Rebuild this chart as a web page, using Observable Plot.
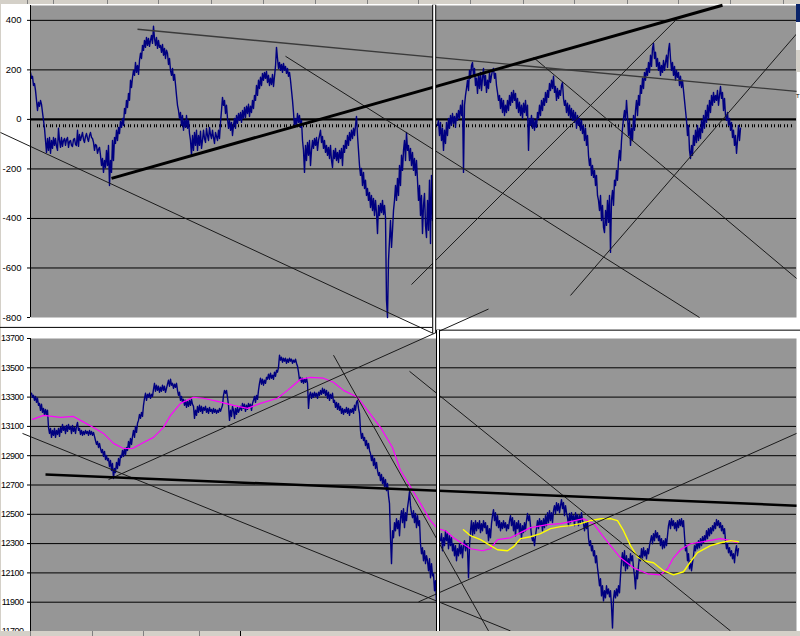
<!DOCTYPE html>
<html>
<head>
<meta charset="utf-8">
<script src="https://cdn.jsdelivr.net/npm/d3@7"></script>
<script src="https://cdn.jsdelivr.net/npm/@observablehq/plot@0.6"></script>
<style>
  html, body { margin: 0; padding: 0; background: #fff; }
  #wrap { position: relative; width: 800px; height: 636px; overflow: hidden; background: #fff; }
  #wrap svg { position: absolute; left: 0; }
  #wrap svg.price text { font-size: 9px; letter-spacing: -0.5px; }
  .chrome { position: absolute; }
</style>
</head>
<body>
<div id="wrap"></div>
<script>
// ---------------- DATA ----------------
// Oscillator (top panel): values per bar, bar index t
const oscLeftStart = 0;
const oscLeft = [
190,166,174,137,145,117,77,36,69,53,
77,61,28,-4,-36,-85,-133,-77,-125,-73,
-137,-85,-117,-73,-105,-77,-109,-125,-36,-85,
-113,-73,-109,-85,-77,-105,-81,-73,-113,-89,
-85,-105,-109,-81,-77,-101,-105,-44,-109,-61,
-85,-69,-53,-81,-93,-69,-57,-77,-89,-65,
-53,-73,-77,-93,-125,-101,-105,-137,-121,-113,
-145,-186,-158,-214,-166,-194,-125,-186,-105,-267,
-166,-214,-85,-166,-73,-97,-44,-85,-32,-57,
-8,-32,4,-24,44,24,77,48,105,77,
158,129,170,198,178,230,190,218,182,238,
267,246,299,279,319,291,331,299,327,295,
319,339,307,376,327,299,331,287,319,291,
299,271,303,259,287,246,279,267,222,246,
198,178,206,158,182,141,97,57,36,4,
28,-24,16,-44,-4,-32,16,-36,-4,-57,
-85,-145,-65,-125,-53,-105,-44,-125,-65,-105,
-48,-117,-85,-44,-77,-93,-36,-65,-85,-32,
-61,-77,-44,-73,-97,-53,-69,-85,-44,-77,
-12,36,89,57,77,24,57,4,-36,-4,
-44,-12,-65,-24,4,-36,16,-16,24,-4,
28,-12,36,4,48,8,53,24,61,12,
53,28,77,44,97,77,137,97,158,125,
170,137,186,158,190,166,194,149,178,137,
166,141,182,133,174,214,291,246,206,230,
198,222,190,226,198,214,186,206,174,190,
158,117,77,28,-32,4,-24,24,-12,16,
-32,-4,-85,-125,-214,-105,-166,-93,-145,-85,
-186,-125,-85,-117,-77,-105,-73,-125,-85,-65,
-44,-93,-69,-117,-85,-133,-105,-145,-113,-158,
-105,-166,-194,-125,-158,-117,-166,-133,-174,-125,
-158,-117,-186,-105,-133,-85,-117,-65,-105,-53,
-85,-44,-77,-36,-65,-24,12,-65,-125,-186,
-226,-198,-267,-214,-279,-246,-307,-279,-327,-295,
-356,-307,-368,-319,-388,-327,-376,-461,-347,-388,
-339,-376,-327,-384,-347,-396,-731,-800,-570,-489,
-408,-517,-448,-368,-327,-267,-327,-238,-307,-186,
-267,-145,-206,-125,-85,-166,-53,-125,-105,-166,
-117,-186,-133,-206,-158,-226,-166,-246,-327,-267,
-388,-307,-461,-347,-299,-428,-477,-327,-448,-246,
-501,-226,-408
];
const oscRightStart = 407;
const oscRight = [
-24,-4,-65,-12,-85,-36,-125,-44,-97,-12,
-65,4,-36,16,-24,24,-16,12,-32,24,
-4,36,4,57,16,77,-214,57,97,125,
158,117,198,166,218,230,178,206,137,166,
105,178,125,190,117,166,206,137,178,109,
158,125,190,149,178,198,206,166,186,137,
109,77,97,44,85,28,77,16,57,28,
77,36,97,57,109,69,117,77,105,44,
85,28,69,16,57,4,65,28,77,16,
57,-125,4,-24,16,-36,4,-44,-4,-32,
28,4,57,16,77,36,85,57,109,69,
117,89,145,117,158,125,174,109,133,77,
125,85,117,97,137,149,85,57,77,28,
65,16,57,4,44,-4,36,-12,28,-36,
16,-24,4,-44,-4,-57,-24,-85,-36,-105,
-65,-145,-186,-158,-226,-186,-234,-206,-267,-226,
-307,-327,-368,-307,-408,-347,-436,-457,-368,-428,
-327,-416,-307,-537,-327,-287,-347,-246,-267,-206,
-246,-166,-125,-166,-85,-36,4,36,-4,77,
16,-65,-4,-105,-36,-85,16,-44,36,77,
16,97,57,137,105,166,125,190,158,206,
178,230,190,259,214,287,307,246,271,214,
246,198,230,178,218,190,238,198,230,259,
210,279,307,246,198,230,178,214,158,198,
170,190,137,174,129,158,117,77,36,-4,
-65,-24,-125,-158,-105,-145,-65,-105,-44,-93,
-24,-85,-36,-77,-4,-53,16,-36,36,-12,
57,4,77,28,97,57,109,69,97,77,
117,57,97,133,85,109,36,85,16,-4,
28,-24,4,-44,-12,-73,-44,-105,-65,-137,
-85,-24,-85,-36
];
const signalLevel = -26;
const oscTicks = [-800, -600, -400, -200, 0, 200, 400];
const oscGrid = [-600, -400, -200, 200, 400];

// Price (bottom panel)
const priceLeftStart = 1;
const priceLeft = [
13326,13299,13312,13278,13305,13264,13292,13244,13257,13210,
13251,13196,13223,13175,13216,13182,13210,13093,13052,13086,
13025,13073,13039,13086,13025,13073,13045,13086,13032,13093,
13059,13114,13073,13100,13052,13107,13066,13114,13080,13100,
13052,13107,13066,13093,13052,13100,13127,13073,13086,13045,
13073,13039,13066,13045,13073,13052,13066,13039,13073,13045,
13066,13039,13059,13032,13004,12977,12997,12956,12984,12949,
12922,12942,12895,12929,12874,12902,12867,12881,12826,12867,
12799,12847,12744,12813,12785,12854,12813,12881,12833,12902,
12888,12936,12895,12949,12908,12956,12936,12997,12956,13018,
12977,13032,13073,13025,13100,13059,13121,13141,13182,13155,
13196,13168,13244,13292,13326,13278,13319,13299,13326,13292,
13319,13305,13353,13394,13340,13381,13346,13374,13333,13367,
13340,13381,13346,13374,13333,13360,13388,13415,13374,13422,
13381,13394,13360,13388,13367,13394,13346,13312,13333,13278,
13305,13264,13285,13244,13278,13230,13271,13237,13278,13244,
13285,13251,13237,13155,13210,13175,13237,13196,13244,13203,
13237,13189,13230,13210,13237,13196,13223,13189,13230,13203,
13216,13189,13223,13196,13216,13189,13210,13196,13223,13203,
13223,13244,13312,13346,13326,13346,13299,13244,13141,13210,
13168,13237,13210,13155,13223,13182,13230,13196,13216,13237,
13210,13257,13223,13251,13203,13244,13216,13257,13230,13251,
13210,13257,13278,13305,13264,13312,13285,13346,13394,13429,
13388,13422,13381,13415,13394,13435,13422,13456,13422,13463,
13429,13449,13422,13470,13442,13483,13470,13504,13586,13552,
13572,13538,13565,13545,13565,13531,13559,13538,13565,13545,
13559,13531,13552,13538,13559,13531,13511,13470,13415,13435,
13401,13429,13394,13422,13401,13429,13394,13223,13312,13333,
13292,13326,13299,13333,13305,13326,13292,13333,13312,13346,
13319,13360,13326,13353,13312,13346,13292,13333,13278,13319,
13292,13326,13264,13278,13230,13264,13216,13257,13210,13237,
13189,13223,13182,13216,13196,13230,13189,13223,13175,13216,
13196,13223,13189,13244,13210,13264,13278,13223,13189,13073,
13018,13052,13004,13025,12970,13004,12949,12984,12936,12915,
12867,12902,12833,12881,12813,12854,12799,12765,12785,12730,
12772,12710,12751,12689,12737,12662,12710,12628,12573,12340,
12163,12388,12340,12443,12388,12470,12402,12457,12354,12470,
12525,12443,12539,12409,12511,12457,12546,12594,12655,12559,
12511,12477,12525,12443,12505,12409,12491,12423,12457,12299,
12231,12272,12183,12251,12163,12217,12183,12115,12197,12067,
12163,12080,12094,11978,12046,11902,12012
];
const priceRightStart = 410;
const priceRight = [
12320,12368,12251,12340,12286,12388,12320,12368,12265,12354,
12286,12340,12251,12299,12217,12286,12183,12265,12217,12299,
12231,12286,12203,12286,12320,12251,12299,12265,12067,12286,
12388,12457,12354,12443,12368,12457,12388,12443,12402,12457,
12375,12436,12388,12457,12409,12443,12368,12423,12320,12402,
12340,12436,12491,12532,12457,12511,12423,12491,12409,12457,
12388,12443,12402,12457,12409,12443,12388,12429,12402,12457,
12491,12423,12477,12388,12457,12354,12443,12402,12457,12368,
12436,12334,12423,12375,12443,12388,12457,12505,12457,12491,
12423,12354,12320,12340,12286,12354,12402,12457,12402,12470,
12423,12457,12388,12470,12409,12491,12423,12511,12443,12525,
12457,12511,12443,12525,12559,12505,12580,12525,12573,12511,
12559,12600,12539,12580,12491,12559,12511,12477,12423,12505,
12443,12511,12457,12491,12423,12511,12457,12498,12423,12491,
12443,12511,12457,12436,12388,12443,12402,12457,12340,12286,
12320,12251,12286,12217,12251,12169,12217,12135,12080,12012,
12060,11943,12012,11909,11978,11930,12012,11957,11991,11937,
11978,11875,11724,11923,11978,11930,11991,11943,12012,11964,
12080,12183,12238,12149,12251,12115,12217,12128,12197,12149,
12231,12183,12217,12135,12080,11991,12115,12060,12149,12217,
12183,12265,12203,12272,12217,12251,12197,12265,12231,12286,
12320,12354,12299,12368,12320,12388,12340,12375,12320,12354,
12286,12334,12265,12320,12272,12334,12286,12354,12423,12457,
12402,12470,12423,12457,12402,12443,12388,12457,12409,12464,
12423,12470,12416,12457,12354,12251,12286,12183,12231,12128,
12183,12115,12169,12217,12286,12251,12306,12265,12320,12272,
12334,12286,12347,12306,12354,12320,12388,12334,12402,12354,
12409,12368,12423,12388,12443,12402,12464,12423,12457,12409,
12443,12388,12423,12368,12402,12320,12265,12299,12238,12272,
12217,12251,12197,12231,12169,12251,12286,12217,12265
];
// magenta moving average
const maT = [2,13,30,43,50,63,73,83,93,102,113,123,133,140,150,163,173,187,203,217,
  230,247,257,263,270,280,293,303,313,327,337,350,362,370,378,390,400,407,415,423,
  440,452,460,467,480,490,500,517,530,540,553,563,572,580,590,603,617,630,637,643,
  650,660,673,690,700,707];
const maV = [13148,13175,13162,13168,13141,13093,13052,12984,12949,12949,12990,13025,13093,13175,13257,13299,13292,13271,13244,13223,
  13257,13292,13346,13381,13422,13435,13429,13401,13346,13299,13210,13093,12956,12799,12710,12573,12457,12402,12388,12340,
  12265,12251,12265,12327,12340,12375,12409,12429,12436,12450,12470,12436,12354,12286,12203,12135,12094,12087,12128,12203,
  12258,12299,12313,12334,12320,12306];
// yellow moving average
const yT = [433,440,450,460,467,477,483,490,500,510,520,530,540,550,560,570,580,587,593,600,
  607,613,623,633,643,653,660,667,680,690,700,708];
const yV = [12395,12354,12327,12286,12258,12251,12279,12334,12347,12368,12402,12416,12423,12436,12457,12470,12470,12457,12388,12286,
  12210,12183,12169,12115,12087,12108,12176,12238,12286,12306,12320,12313];
const priceTicks = [11700,11900,12100,12300,12500,12700,12900,13100,13300,13500,13700];
const priceGrid = [11900,12100,12300,12500,12700,12900,13100,13300,13500];

// Trend lines drawn on the charts: [t1, v1, t2, v2]
const oscThinLines = [
  [255, 255, 669, -800],
  [503, 250, 766, -642],
  [381, -667, 647, 408],
  [540, -711, 766, 345],
  [-30, -53, 403, -865]
];
const oscGreyLine = [[107, 364, 766, 113]];
const oscThickLines = [[81, -238, 692, 461]];
const priceThinLines = [
  [-8, 13052, 480, 11704],
  [78, 12737, 458, 13901],
  [303, 13586, 458, 11704],
  [379, 13476, 700, 11704],
  [388, 11902, 766, 13052]
];
const priceThickLines = [[15, 12772, 766, 12559]];

// window dividers (bar position) and frame borders
const oscDivider = {t: 403.7, top: 461, bottom: -865};
const oscBorder = {v: -840, t1: -30, t2: 402};
const priceDivider = {t: 407.5, top: 13757, bottom: 11697};
const priceBorder = {v: 13757, t1: 407, t2: 770};

// ---------------- DRAW ----------------
const GRAY = "#969696";
const NAVY = "#000080";
const toPts = (arr, start) => arr.map((v, i) => ({t: start + i, v}));
const toLinks = arr => arr.map(([t1, v1, t2, v2]) => ({t1, v1, t2, v2}));
const xDom = [0, 766];
const fontStyle = "overflow: visible; font-family: Arial, 'Liberation Sans', sans-serif; font-size: 9.5px; color: black; background: transparent;";

const topChart = Plot.plot({
  width: 800, height: 317,
  marginTop: 5, marginBottom: 0, marginLeft: 30, marginRight: 4,
  style: fontStyle,
  x: {domain: xDom, axis: null},
  y: {domain: [-800, 460], label: null},
  marks: [
    Plot.frame({fill: GRAY, stroke: "none"}),
    Plot.ruleY(oscGrid, {stroke: "black", strokeWidth: 1}),
    Plot.ruleY([0], {stroke: "black", strokeWidth: 2.2}),
    Plot.ruleY([signalLevel], {x1: 7, x2: 763, stroke: "black", strokeWidth: 3, strokeDasharray: "1,1,1,3,1,2,1,3"}),
    Plot.line(toPts(oscLeft, oscLeftStart), {x: "t", y: "v", stroke: NAVY, strokeWidth: 1.4}),
    Plot.line(toPts(oscRight, oscRightStart), {x: "t", y: "v", stroke: NAVY, strokeWidth: 1.4}),
    Plot.link(toLinks(oscThinLines), {x1: "t1", y1: "v1", x2: "t2", y2: "v2", stroke: "#1a1a1a", strokeWidth: 1}),
    Plot.link(toLinks(oscGreyLine), {x1: "t1", y1: "v1", x2: "t2", y2: "v2", stroke: "#3a3a3a", strokeWidth: 1.4}),
    Plot.link(toLinks(oscThickLines), {x1: "t1", y1: "v1", x2: "t2", y2: "v2", stroke: "black", strokeWidth: 3}),
    Plot.ruleY([oscBorder.v], {x1: oscBorder.t1, x2: oscBorder.t2, stroke: "black", strokeWidth: 1}),
    Plot.ruleX([oscDivider.t], {y1: oscDivider.top, y2: oscDivider.bottom, stroke: "black", strokeWidth: 4}),
    Plot.ruleX([oscDivider.t], {y1: oscDivider.top, y2: oscDivider.bottom, stroke: "white", strokeWidth: 2}),
    Plot.ruleX([0], {stroke: "black", strokeWidth: 1}),
    Plot.axisY(oscTicks, {tickSize: 3, tickPadding: 6, tickFormat: d => String(d), label: null})
  ]
});
topChart.style.top = "0px";

const bottomChart = Plot.plot({
  width: 800, height: 313,
  marginTop: 20, marginBottom: 0, marginLeft: 30, marginRight: 4,
  style: fontStyle,
  x: {domain: xDom, axis: null},
  y: {domain: [11700, 13700], label: null},
  marks: [
    Plot.frame({fill: GRAY, stroke: "none"}),
    Plot.ruleY(priceGrid, {stroke: "black", strokeWidth: 1}),
    Plot.line(toPts(priceLeft, priceLeftStart), {x: "t", y: "v", stroke: NAVY, strokeWidth: 1.4}),
    Plot.line(toPts(priceRight, priceRightStart), {x: "t", y: "v", stroke: NAVY, strokeWidth: 1.4}),
    Plot.line(maT.map((t, i) => ({t, v: maV[i]})), {x: "t", y: "v", stroke: "#ff00ff", strokeWidth: 1.2}),
    Plot.line(yT.map((t, i) => ({t, v: yV[i]})), {x: "t", y: "v", stroke: "#ffff00", strokeWidth: 1.4}),
    Plot.link(toLinks(priceThinLines), {x1: "t1", y1: "v1", x2: "t2", y2: "v2", stroke: "#1a1a1a", strokeWidth: 1}),
    Plot.link(toLinks(priceThickLines), {x1: "t1", y1: "v1", x2: "t2", y2: "v2", stroke: "black", strokeWidth: 2.5}),
    Plot.ruleY([priceBorder.v], {x1: priceBorder.t1, x2: priceBorder.t2, stroke: "black", strokeWidth: 1}),
    Plot.ruleX([priceDivider.t], {y1: priceDivider.top, y2: priceDivider.bottom, stroke: "black", strokeWidth: 4}),
    Plot.ruleX([priceDivider.t], {y1: priceDivider.top, y2: priceDivider.bottom, stroke: "white", strokeWidth: 2}),
    Plot.ruleX([0], {stroke: "black", strokeWidth: 1}),
    Plot.axisY(priceTicks, {tickSize: 3, tickPadding: 4, tickFormat: d => String(d), label: null})
  ]
});
bottomChart.style.top = "318px";
bottomChart.classList.add("price");

const wrap = document.getElementById("wrap");
// spreadsheet chrome around the charts
function box(l, t, w, h, bg) {
  const d = document.createElement("div");
  d.className = "chrome";
  Object.assign(d.style, {left: l + "px", top: t + "px", width: w + "px", height: h + "px", background: bg});
  wrap.appendChild(d);
  return d;
}
box(0, 0, 800, 4, "#d4d0c8");
[27, 53, 107, 158, 211, 263, 315, 367, 418, 470, 523, 574, 627, 678, 730, 783].forEach(x => box(x, 0, 1, 4, "#808080"));
box(0, 0, 1, 636, "#d4d0c8");
wrap.appendChild(topChart);
wrap.appendChild(bottomChart);
box(0, 631, 800, 5, "#d4d0c8");
[30, 92, 143, 199].forEach(x => box(x, 631, 1, 5, "#808080"));
box(240, 631, 1, 5, "#000");
box(796, 4, 4, 18, "#0a246a");
box(796, 22, 4, 28, "#f4f4f4");
box(796, 50, 4, 22, "#d4d0c8");
const tl = box(796, 92, 4, 8, "transparent");
tl.style.font = "6px Arial, 'Liberation Sans', sans-serif";
tl.style.lineHeight = "8px";
tl.textContent = "T";
</script>
</body>
</html>
